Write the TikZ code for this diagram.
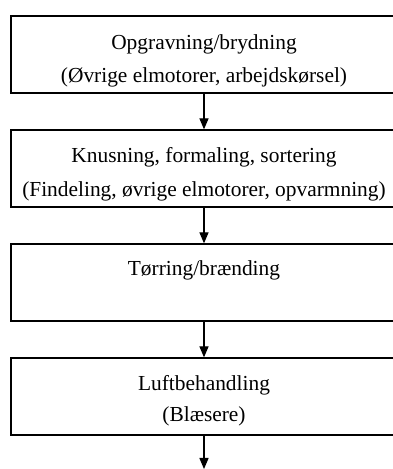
\documentclass[tikz,border=0pt]{standalone}
\usepackage{fontspec}
\setmainfont{Liberation Serif}
\usetikzlibrary{arrows.meta}
\begin{document}
\begin{tikzpicture}[x=1pt,y=1pt,
  stagebox/.style={draw=black, line width=1.3pt, minimum width=386pt, minimum height=77pt, inner sep=0pt},
  txt/.style={anchor=base, inner sep=0pt, font=\fontsize{21.4}{25}\selectfont},
  flow/.style={line width=1.3pt, -{Triangle[width=9pt,length=11pt]}}]
  \useasboundingbox (0,0) rectangle (393,469);
  \begin{scope}
    \clip (0,0) rectangle (393,469);
    % process stages
    \node[stagebox] (s1) at (204,414.5) {};
    \node[stagebox] (s2) at (204,300.5) {};
    \node[stagebox] (s3) at (204,186.5) {};
    \node[stagebox] (s4) at (204,72.5) {};
    % stage texts
    \node[txt] (s1a) at (204,419) {Opgravning/brydning};
    \node[txt] (s1b) at (204,386) {(Øvrige elmotorer, arbejdskørsel)};
    \node[txt] (s2a) at (204,306) {Knusning, formaling, sortering};
    \node[txt] (s2b) at (204,272) {(Findeling, øvrige elmotorer, opvarmning)};
    \node[txt] (s3a) at (204,193) {Tørring/brænding};
    \node[txt] (s4a) at (204,78) {Luftbehandling};
    \node[txt] (s4b) at (204,47) {(Blæsere)};
    % flow arrows
    \coordinate (out) at (204,0);
    \draw[flow] (s1.south) -- (s2.north);
    \draw[flow] (s2.south) -- (s3.north);
    \draw[flow] (s3.south) -- (s4.north);
    \draw[flow] (s4.south) -- (out);
  \end{scope}
\end{tikzpicture}
\end{document}
